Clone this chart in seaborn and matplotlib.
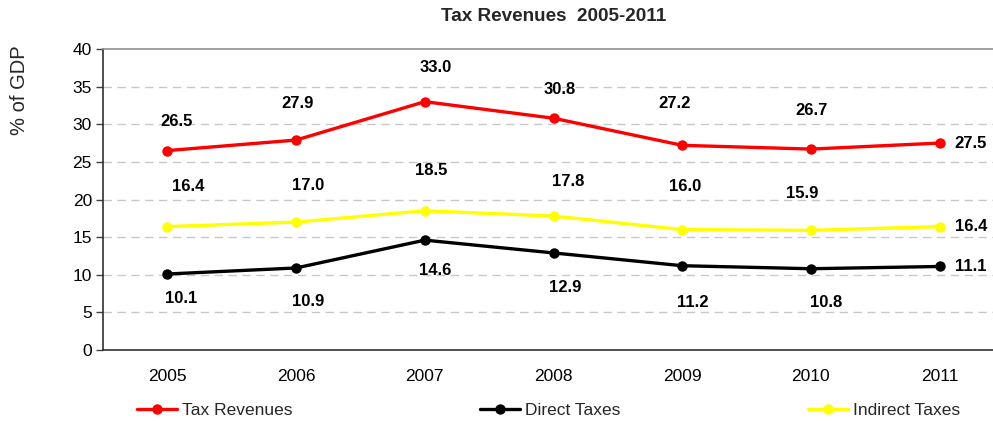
import numpy as np
import pandas as pd
import matplotlib
matplotlib.use("Agg")
import matplotlib.pyplot as plt
import seaborn as sns

years = ["2005", "2006", "2007", "2008", "2009", "2010", "2011"]
tax_revenues = [26.5, 27.9, 33.0, 30.8, 27.2, 26.7, 27.5]
direct_taxes = [10.1, 10.9, 14.6, 12.9, 11.2, 10.8, 11.1]
indirect_taxes = [16.4, 17.0, 18.5, 17.8, 16.0, 15.9, 16.4]

series_names = ["Tax Revenues", "Direct Taxes", "Indirect Taxes"]
series_values = [tax_revenues, direct_taxes, indirect_taxes]
colors = {"Tax Revenues": "#ff0000", "Direct Taxes": "#000000", "Indirect Taxes": "#ffff00"}

# hand-placed label nudges (pixels) for 2005-2010; 2011 labels sit to the right
label_dx = {"Tax Revenues": [9, 1, 11, 6, -8, 1],
            "Direct Taxes": [14, 12, 10, 12, 11, 15],
            "Indirect Taxes": [21, 12, 6, 15, 3, -9]}
label_dy = {"Tax Revenues": [29, 37, 34, 29, 42, 39],
            "Direct Taxes": [-25, -34, -30, -35, -37, -34],
            "Indirect Taxes": [40, 37, 40, 35, 43, 37]}

rows = []
for name, vals in zip(series_names, series_values):
    for i, v in enumerate(vals):
        rows.append({"pos": i, "year": years[i], "value": v, "series": name})
df = pd.DataFrame(rows)

sns.set_theme(style="white")
plt.rcParams["font.family"] = ["Liberation Sans", "DejaVu Sans"]

fig = plt.figure(figsize=(9.93, 4.21), dpi=100)
ax = fig.add_axes([103 / 993, 1 - 350 / 421, (1004 - 103) / 993, 301 / 421])

sns.lineplot(data=df, x="pos", y="value", hue="series", hue_order=series_names,
             palette=colors, marker="o", markersize=7.5, markeredgewidth=0,
             linewidth=2.4, ax=ax, legend=True)

ax.set_xlim(-0.5, 6.5)
ax.set_ylim(0, 40)
ax.set_yticks(np.arange(0, 41, 5))
ax.set_xticks(range(len(years)))
ax.set_xticklabels(years)
ax.set_xticks(np.arange(-0.5, 7, 1), minor=True)
ax.tick_params(axis="x", which="major", length=0, pad=14, labelsize=12.5, colors="#000000")
ax.tick_params(axis="x", which="minor", length=5, width=1, color="#404040", direction="out")
ax.tick_params(axis="y", which="major", length=5, width=1, color="#404040", direction="out",
               left=True, pad=3, labelsize=12.5, colors="#000000")
ax.set_xlabel("")
ax.set_ylabel("")

for y in range(5, 40, 5):
    ax.axhline(y, color="#c8c8c8", linewidth=1, linestyle=(0, (6, 4)), zorder=0)

for side in ["left", "bottom"]:
    ax.spines[side].set_color("#303030")
    ax.spines[side].set_linewidth(1.2)
ax.spines["top"].set_color("#909090")
ax.spines["top"].set_linewidth(1.2)
ax.spines["right"].set_visible(False)

# value labels
for name, vals in zip(series_names, series_values):
    for i, v in enumerate(vals):
        if i == len(vals) - 1:
            ax.annotate(f"{v:.1f}", (i, v), xytext=(15, 0), textcoords="offset pixels",
                        ha="left", va="center", fontsize=12, fontweight="bold", color="#000000")
        else:
            ax.annotate(f"{v:.1f}", (i, v), xytext=(label_dx[name][i], label_dy[name][i]),
                        textcoords="offset pixels", ha="center", va="center",
                        fontsize=12, fontweight="bold", color="#000000")

ax.set_title("Tax Revenues  2005-2011", fontsize=13.6, fontweight="bold", pad=20)
fig.text(20 / 993, 1 - 90 / 421, "% of GDP", rotation=90, ha="center", va="center", fontsize=14.5)

handles, labels = ax.get_legend_handles_labels()
ax.get_legend().remove()
fig.legend(handles, labels, loc="center left", bbox_to_anchor=(137 / 993, 1 - 410 / 421),
           ncol=3, frameon=False, fontsize=12.5, handlelength=2.3, handletextpad=0.3,
           columnspacing=10.8, borderpad=0, borderaxespad=0)

fig.savefig("out.png", dpi=100)
